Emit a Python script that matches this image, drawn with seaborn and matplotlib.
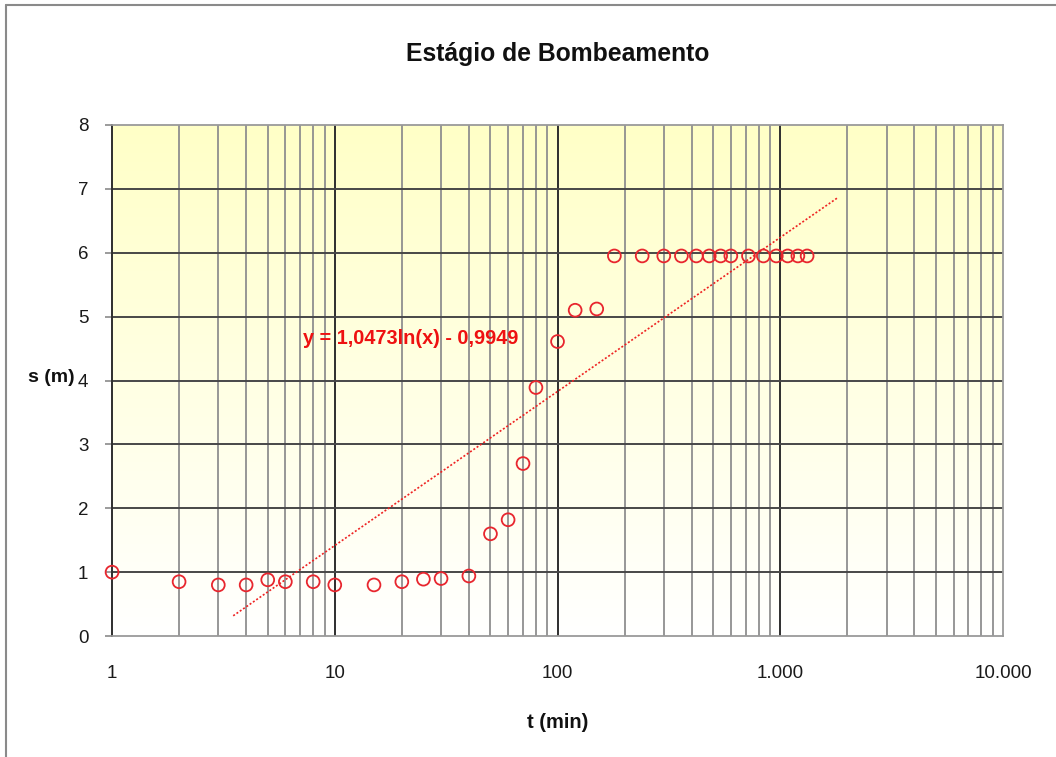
import numpy as np
import pandas as pd
import matplotlib
matplotlib.use("Agg")
import matplotlib.pyplot as plt
from matplotlib.lines import Line2D
from matplotlib.ticker import FixedLocator, NullFormatter
import seaborn as sns

# Pumping-test drawdown readings
t_min = [1, 2, 3, 4, 5, 6, 8, 10, 15, 20, 25, 30, 40, 50, 60, 70, 80, 100,
         120, 150, 180, 240, 300, 360, 420, 480, 540, 600, 720, 840, 960,
         1080, 1200, 1320]
s_m = [1.00, 0.85, 0.80, 0.80, 0.88, 0.85, 0.85, 0.80, 0.80, 0.85, 0.89,
       0.90, 0.94, 1.60, 1.82, 2.70, 3.89, 4.61, 5.10, 5.12, 5.95, 5.95,
       5.95, 5.95, 5.95, 5.95, 5.95, 5.95, 5.95, 5.95, 5.95, 5.95, 5.95, 5.95]

# Logarithmic trendline  s = a*ln(t) + b
trend_a = 1.0473
trend_b = -0.9949
trend_t_range = (3.5, 1800)
trend_label = "y = 1,0473ln(x) - 0,9949"

x_ticks = [1, 10, 100, 1000, 10000]
x_tick_labels = ["1", "10", "100", "1.000", "10.000"]
y_ticks = [0, 1, 2, 3, 4, 5, 6, 7, 8]

df = pd.DataFrame({"t": t_min, "s": s_m})

sns.set_theme(style="white")
plt.rcParams["font.family"] = ["Liberation Sans", "DejaVu Sans"]

fig = plt.figure(figsize=(10.56, 7.57), dpi=100)
ax = fig.add_axes([0.1061, 0.1598, 0.8437, 0.6751])
ax.set_xscale("log")
ax.set_xlim(1, 10000)
ax.set_ylim(0, 8)

# Soft yellow-to-white background
frac = np.linspace(0, 1, 256)[:, None, None]
top = np.array([1.0, 1.0, 0.78])
bottom = np.array([1.0, 1.0, 1.0])
img = bottom * (1 - frac) + top * frac
img = np.repeat(img, 2, axis=1)
ax.imshow(img, extent=[0, 1, 0, 1], transform=ax.transAxes, aspect="auto",
          origin="lower", zorder=0, interpolation="bilinear")

# Grid: dark major lines, grey minor decades
minor_x = [m * 10 ** d for d in range(4) for m in range(2, 10)]
for xv in minor_x:
    ax.axvline(xv, color="#8f8f8f", lw=1.3, zorder=1)
for xv in [10, 100, 1000]:
    ax.axvline(xv, color="#2e2e2e", lw=1.4, zorder=1.5)
for yv in range(1, 8):
    ax.axhline(yv, color="#474747", lw=1.4, zorder=1.5)

for side in ["top", "right", "bottom"]:
    ax.spines[side].set_color("#9a9a9a")
    ax.spines[side].set_linewidth(1.3)
ax.spines["left"].set_color("#2e2e2e")
ax.spines["left"].set_linewidth(1.4)

# Trendline
tt = np.geomspace(*trend_t_range, 300)
ax.plot(tt, trend_a * np.log(tt) + trend_b, linestyle=(0, (1.2, 1.2)),
        color="#ee2222", lw=1.2, zorder=3)

sns.scatterplot(data=df, x="t", y="s", ax=ax, marker="o", s=85,
                facecolors="none", edgecolor="#e8262e", linewidth=1.3,
                zorder=4, clip_on=False)

ax.text(7.2, 4.66, trend_label, color="#ee1111", fontsize=14.3,
        fontweight="bold", ha="left", va="center", zorder=5)

ax.xaxis.set_major_locator(FixedLocator(x_ticks))
ax.set_xticklabels(x_tick_labels)
ax.xaxis.set_minor_formatter(NullFormatter())
ax.set_yticks(y_ticks)
ax.tick_params(axis="x", which="both", length=0, pad=21, labelsize=13.5,
               labelcolor="#1a1a1a")
ax.tick_params(axis="y", which="major", left=True, length=5, width=1.2,
               color="#8a8a8a", pad=12, labelsize=13.5, labelcolor="#1a1a1a")

ax.set_xlabel("t (min)", fontsize=14.5, fontweight="bold", labelpad=22,
              color="#111111")
ax.set_ylabel("s (m)", fontsize=14, fontweight="bold", rotation=0,
              color="#111111", va="center", ha="center")
ax.yaxis.set_label_coords(-0.068, 0.505)
ax.set_title("Estágio de Bombeamento", fontsize=17.8, fontweight="bold",
             pad=46, color="#111111")

# Outer frame lines
fig.add_artist(Line2D([0.0057, 0.0057], [0.0, 0.9934], transform=fig.transFigure,
                      color="#8a8a8a", lw=1.5))
fig.add_artist(Line2D([0.0057, 1.0], [0.9934, 0.9934], transform=fig.transFigure,
                      color="#8a8a8a", lw=1.5))

fig.savefig("out.png", dpi=100, facecolor="white")
